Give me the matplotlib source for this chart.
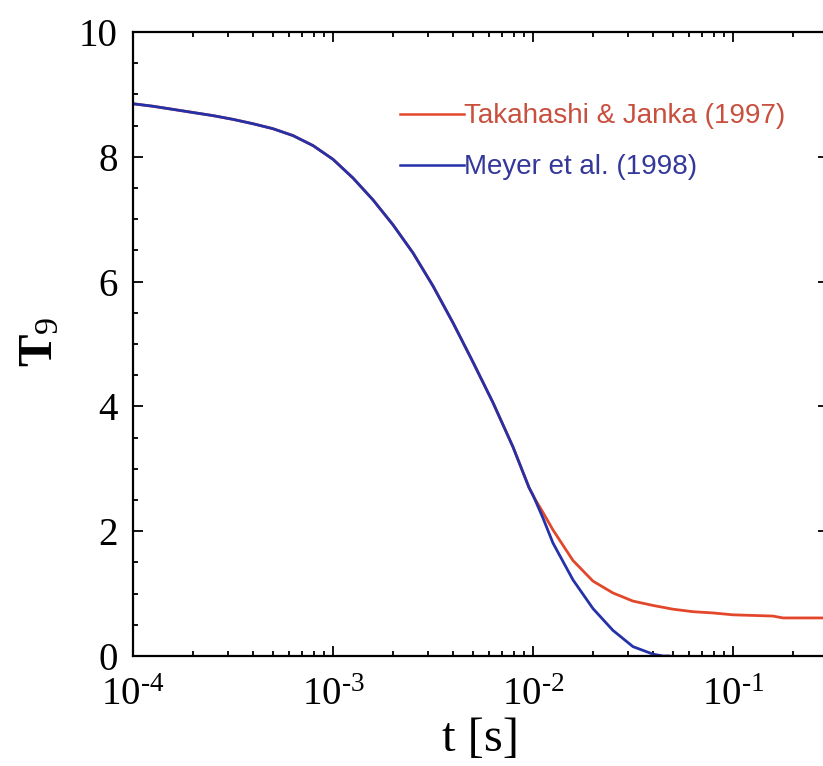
import matplotlib
matplotlib.use('Agg')
import matplotlib.pyplot as plt
import numpy as np
from matplotlib.ticker import LogLocator, MultipleLocator, FuncFormatter, NullFormatter

# temperature T9 against log10(t / s); both runs agree until t ~ 1e-2 s
log_t_shared = [-4.0, -3.9, -3.8, -3.7, -3.6, -3.5, -3.4, -3.3, -3.2, -3.1, -3.0,
                -2.9, -2.8, -2.7, -2.6, -2.5, -2.4, -2.3, -2.2, -2.1, -2.02]
T9_shared = [8.85, 8.81, 8.76, 8.71, 8.66, 8.60, 8.53, 8.45, 8.34, 8.18, 7.96,
             7.66, 7.31, 6.91, 6.46, 5.93, 5.34, 4.71, 4.06, 3.35, 2.70]

log_t_tj = [-2.0, -1.95, -1.9, -1.8, -1.7, -1.6, -1.5, -1.4, -1.3, -1.2, -1.1,
            -1.0, -0.9, -0.8, -0.75, -0.6, -0.52]
T9_tj = [2.57, 2.30, 2.02, 1.53, 1.20, 1.01, 0.88, 0.81, 0.75, 0.71, 0.69,
         0.66, 0.65, 0.64, 0.61, 0.61, 0.61]

log_t_meyer = [-2.0, -1.95, -1.9, -1.8, -1.7, -1.6, -1.5, -1.4, -1.35, -1.32]
T9_meyer = [2.58, 2.21, 1.81, 1.22, 0.76, 0.41, 0.15, 0.03, 0.0, 0.0]

labels = ['Takahashi & Janka (1997)', 'Meyer et al. (1998)']
line_colors = ['#e2472c', '#2531a8']
text_colors = ['#c9503e', '#33389a']

plt.rcParams['font.family'] = 'Liberation Serif'
plt.rcParams['mathtext.fontset'] = 'custom'
plt.rcParams['mathtext.rm'] = 'Liberation Serif'
plt.rcParams['mathtext.it'] = 'Liberation Serif:italic'
plt.rcParams['mathtext.bf'] = 'Liberation Serif:bold'

t_tj = 10 ** np.array(log_t_shared + log_t_tj)
y_tj = np.array(T9_shared + T9_tj)
t_me = 10 ** np.array(log_t_shared + log_t_meyer)
y_me = np.array(T9_shared + T9_meyer)

fig = plt.figure(figsize=(8.23, 7.66), dpi=100)
ax = fig.add_axes([133 / 823, 110 / 766, 695.4 / 823, 624 / 766])

ax.plot(t_tj, y_tj, color=line_colors[0], lw=2.0, label=labels[0])
ax.plot(t_me, y_me, color=line_colors[1], lw=2.0, label=labels[1])

ax.set_xscale('log')
ax.set_xlim(1e-4, 0.3)
ax.set_ylim(0, 10)


def decade_label(v, pos):
    # short hyphen in the exponent, as in the printed axis
    return r'$10^{‐%d}$' % abs(round(np.log10(v)))


ax.xaxis.set_major_locator(LogLocator(base=10, numticks=10))
ax.xaxis.set_minor_locator(LogLocator(base=10, subs=np.arange(2, 10), numticks=20))
ax.xaxis.set_minor_formatter(NullFormatter())
ax.xaxis.set_major_formatter(FuncFormatter(decade_label))
ax.yaxis.set_major_locator(MultipleLocator(2))
ax.yaxis.set_minor_locator(MultipleLocator(0.5))

ax.tick_params(which='both', direction='in', top=True, right=True, width=1.3)
ax.tick_params(which='major', length=7)
ax.tick_params(which='minor', length=3.5)
ax.tick_params(axis='x', labelsize=28, pad=15)
ax.tick_params(axis='y', labelsize=28, pad=11)
for s in ax.spines.values():
    s.set_linewidth(1.6)

ax.set_xlabel('t [s]', fontsize=35, labelpad=2)
fig.text(40 / 823, 1 - 342 / 766, r'$\mathbf{T}_{9}$', rotation=90,
         ha='center', va='center', fontsize=35)

leg = ax.legend(loc='upper left', bbox_to_anchor=(0.364, 0.908), frameon=False,
                handlelength=2.3, handletextpad=0.0, borderpad=0, labelspacing=0.9,
                prop={'family': 'Liberation Sans', 'size': 20},
                labelcolor=text_colors)
for h in leg.legend_handles:
    h.set_linewidth(1.8)

fig.savefig('out.png', dpi=100)
